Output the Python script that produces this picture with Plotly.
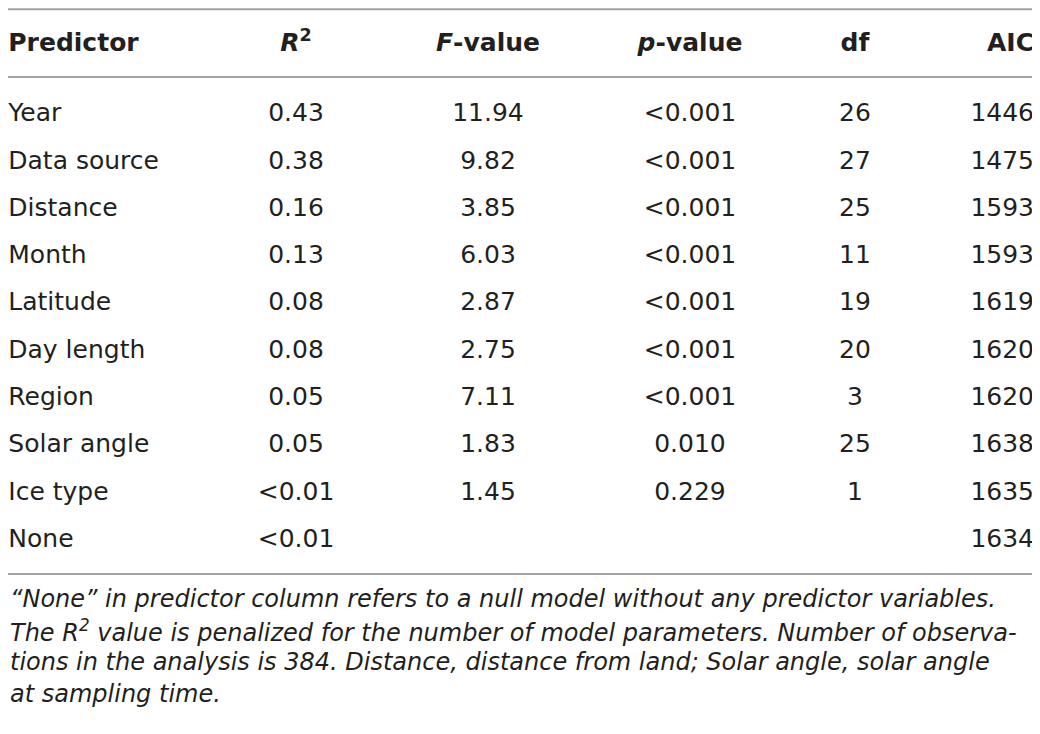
import plotly.graph_objects as go

# table content
header = ["<b>Predictor</b>", "<b><i>R</i><sup>2</sup></b>", "<b><i>F</i>-value</b>",
          "<b><i>p</i>-value</b>", "<b>df</b>", "<b>AIC</b>"]
predictors = ["Year", "Data source", "Distance", "Month", "Latitude", "Day length",
              "Region", "Solar angle", "Ice type", "None"]
r2 = ["0.43", "0.38", "0.16", "0.13", "0.08", "0.08", "0.05", "0.05", "<0.01", "<0.01"]
f_value = ["11.94", "9.82", "3.85", "6.03", "2.87", "2.75", "7.11", "1.83", "1.45", ""]
p_value = ["<0.001", "<0.001", "<0.001", "<0.001", "<0.001", "<0.001", "<0.001",
           "0.010", "0.229", ""]
df = ["26", "27", "25", "11", "19", "20", "3", "25", "1", ""]
aic = ["1446", "1475", "1593", "1593", "1619", "1620", "1620", "1638", "1635", "1634"]
footnote = [
    "\u201cNone\u201d in predictor column refers to a null model without any predictor variables.",
    "The <i>R</i><sup>2</sup> value is penalized for the number of model parameters. Number of observa-",
    "tions in the analysis is 384. Distance, distance from land; Solar angle, solar angle",
    "at sampling time.",
]

# layout constants (reference pixels); the page body adds an 8px margin,
# so the axes start at 8 to keep data units equal to screen pixels
W, H = 1040, 734
PAD = 8
header_y = 45
row0_y = 115
pitch = 47.3
col_x = [8.3, 296, 488, 690, 855, 1034]
col_pos = ["middle right", "middle center", "middle center", "middle center",
           "middle center", "middle left"]
body_font = dict(family="DejaVu Sans, Liberation Sans, sans-serif", size=25, color="#231f20")

columns = [predictors, r2, f_value, p_value, df, aic]
row_y = [row0_y + i * pitch for i in range(len(predictors))]

fig = go.Figure()
for j, col in enumerate(columns):
    fig.add_trace(go.Scatter(
        x=[col_x[j]] * (len(col) + 1),
        y=[header_y] + row_y,
        mode="text",
        text=[header[j]] + col,
        textposition=col_pos[j],
        textfont=body_font,
        hoverinfo="skip",
        showlegend=False,
        cliponaxis=False,
    ))

# horizontal rules
rule_y = [9.2, 77, 574]
for ry in rule_y:
    fig.add_shape(type="line", xref="x", yref="y", x0=8, x1=1032, y0=ry, y1=ry,
                  line=dict(color="#a3a3a3", width=2))

for k, line in enumerate(footnote):
    fig.add_annotation(
        x=8.3, y=599 + k * 31.7, xref="x", yref="y", xanchor="left", yanchor="middle",
        text="<i>" + line + "</i>", showarrow=False,
        font=dict(family="DejaVu Sans, Liberation Sans, sans-serif",
                  size=24, color="#231f20"),
    )

fig.update_layout(
    width=W - PAD, height=H - PAD,
    margin=dict(l=0, r=0, t=0, b=0),
    plot_bgcolor="white", paper_bgcolor="white",
    xaxis=dict(range=[PAD, W], visible=False, fixedrange=True),
    yaxis=dict(range=[H, PAD], visible=False, fixedrange=True),
)

fig.write_html("out.html")
